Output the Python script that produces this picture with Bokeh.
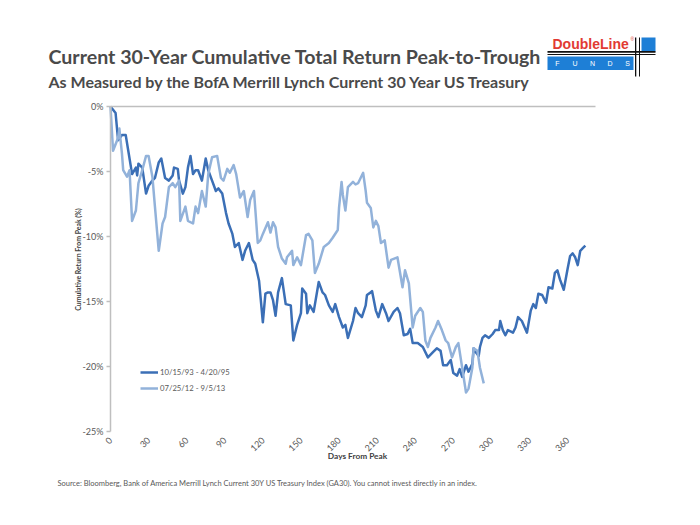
from math import pi
from bokeh.plotting import figure
from bokeh.models import (Range1d, FixedTicker, PrintfTickFormatter, Legend, LegendItem,
                          Label, LinearAxis)
from bokeh.embed import file_html
from bokeh.resources import INLINE

# ---------------- data ----------------
days_9395 = [0, 4, 6, 9, 12, 14, 17, 20, 21, 22, 25, 28, 30, 33, 35, 38, 40, 43, 46, 49,
             50, 53, 54, 57, 59, 61, 63, 65, 67, 69, 72, 75, 77, 80, 83, 85, 88, 91, 93, 96,
             98, 101, 104, 106, 109, 112, 114, 117, 120, 122, 124, 126, 128, 130, 132, 135,
             138, 142, 144, 147, 150, 151, 154, 155, 157, 160, 164, 167, 169, 172, 175, 177,
             180, 183, 185, 187, 191, 193, 195, 198, 201, 202, 205, 206, 209, 211, 214, 217,
             219, 223, 226, 228, 231, 234, 236, 238, 242, 246, 250, 254, 257, 260, 262, 265,
             268, 270, 273, 275, 277, 280, 282, 285, 286, 287, 290, 291, 293, 295, 298, 301,
             303, 306, 307, 309, 311, 313, 317, 319, 321, 324, 328, 331, 333, 335, 337, 340,
             343, 345, 348, 350, 352, 354, 357, 360, 362, 364, 366, 368, 370, 372, 374]
ret_9395 = [0.0, -0.5, -2.6, -2.2, -2.2, -3.4, -5.2, -4.7, -5.3, -4.4, -4.7, -6.7, -6.1, -5.7,
            -5.5, -4.3, -4.0, -5.5, -5.7, -5.3, -4.7, -4.8, -5.7, -6.7, -6.2, -4.7, -3.8, -5.2,
            -4.9, -4.9, -5.7, -4.0, -4.9, -5.7, -6.5, -6.3, -6.7, -8.2, -9.0, -9.8, -10.8,
            -10.5, -11.8, -11.1, -10.5, -11.8, -12.1, -13.4, -16.6, -14.4, -14.3, -14.3, -14.9,
            -16.1, -14.3, -13.2, -15.2, -15.3, -18.0, -16.8, -15.9, -14.0, -14.4, -15.9, -15.3,
            -15.8, -13.5, -14.3, -14.5, -15.3, -15.8, -15.2, -16.2, -17.0, -16.8, -17.8, -16.5,
            -15.5, -15.9, -16.2, -15.3, -14.5, -14.3, -14.2, -15.7, -16.2, -15.2, -15.9, -16.5,
            -15.8, -15.5, -15.9, -17.6, -17.5, -17.1, -18.2, -18.2, -18.5, -19.3, -18.9, -18.6,
            -18.8, -19.9, -19.9, -19.5, -20.5, -20.7, -20.2, -20.8, -19.9, -20.4, -19.8, -18.6,
            -18.8, -19.2, -18.5, -17.8, -17.6, -17.8, -17.5, -17.2, -17.2, -16.5, -17.2, -17.6,
            -17.2, -17.4, -17.0, -16.2, -16.5, -17.4, -15.7, -15.2, -15.5, -14.4, -14.5, -15.1,
            -13.9, -14.0, -12.8, -12.6, -13.3, -14.1, -12.5, -11.5, -11.3, -11.6, -12.2, -11.1,
            -10.9, -10.7]

days_1213 = [0, 2, 6, 7, 9, 10, 13, 15, 17, 20, 22, 25, 28, 30, 33, 35, 38, 41, 43, 46, 49,
             51, 54, 55, 59, 61, 65, 67, 69, 72, 75, 77, 80, 84, 87, 89, 92, 94, 97, 99, 102,
             105, 108, 110, 113, 116, 118, 120, 124, 126, 128, 130, 132, 135, 138, 139, 143,
             144, 147, 150, 154, 156, 159, 161, 164, 168, 172, 175, 179, 180, 182, 183, 185,
             187, 191, 193, 195, 197, 199, 201, 202, 205, 207, 209, 211, 213, 216, 219, 221,
             226, 230, 232, 235, 238, 240, 244, 246, 248, 250, 252, 256, 258, 261, 264, 266,
             269, 272, 274, 277, 280, 282, 285, 286, 289, 291, 294]
ret_1213 = [0.0, -3.4, -2.4, -1.7, -3.6, -4.9, -5.4, -4.9, -8.8, -8.0, -5.9, -4.9, -3.8, -3.8,
            -5.4, -7.7, -11.1, -9.0, -8.5, -6.2, -5.9, -6.2, -5.7, -8.8, -7.7, -8.8, -9.0, -7.7,
            -8.2, -6.5, -7.7, -5.2, -3.9, -3.8, -5.5, -5.7, -4.8, -5.1, -4.5, -5.2, -7.0, -6.5,
            -8.5, -7.2, -6.5, -10.5, -10.3, -9.8, -8.9, -9.7, -8.9, -9.3, -10.8, -11.7, -12.1,
            -11.6, -11.1, -12.2, -11.6, -12.2, -9.9, -9.8, -10.3, -12.8, -12.1, -10.8, -10.5,
            -10.1, -9.5, -7.8, -5.8, -6.8, -8.0, -6.2, -5.8, -6.0, -5.9, -5.5, -5.1, -6.5, -7.4,
            -7.8, -9.3, -8.8, -9.2, -10.5, -10.3, -12.4, -11.8, -11.6, -13.9, -12.6, -13.6,
            -17.0, -16.1, -15.5, -15.8, -18.0, -18.5, -17.8, -17.0, -16.5, -17.2, -18.0, -18.2,
            -19.3, -18.5, -18.2, -20.1, -22.0, -21.7, -20.1, -18.6, -18.8, -20.1, -21.3]

series_labels = ["10/15/93 - 4/20/95", "07/25/12 - 9/5/13"]
x_ticks = [0, 30, 60, 90, 120, 150, 180, 210, 240, 270, 300, 330, 360]
y_ticks = [-25, -20, -15, -10, -5, 0]

title_text = "Current 30-Year Cumulative Total Return Peak-to-Trough"
subtitle_text = "As Measured by the BofA Merrill Lynch Current 30 Year US Treasury"
x_title = "Days From Peak"
y_title = "Cumulative Return From Peak (%)"
source_text = ("Source: Bloomberg, Bank of America Merrill Lynch Current 30Y US Treasury Index "
               "(GA30). You cannot invest directly in an index.")
logo_word = "DoubleLine"
logo_letters = ["F", "U", "N", "D", "S"]

DARK = "#3b6fb6"
LIGHT = "#92b2da"
GRAY_TXT = "#595959"
AXIS_GRAY = "#bfbfbf"
FONT = "Lato"

X_MAX, Y_MIN, Y_MAX = 382, -25, 0
W, H = 700, 525
# where the chart area sits on the page (pixels)
FL, FR, FT, FB = 110, 595, 106, 431
SX = (FR - FL) / (X_MAX - 0)       # px per day
SY = (FB - FT) / (Y_MAX - Y_MIN)   # px per percent


def dx(px):
    return (px - FL) / SX


def dy(py):
    return Y_MAX - (py - FT) / SY


# The frame covers the whole page; the axes are pinned to the chart area.
p = figure(width=W, height=H,
           x_range=Range1d(dx(0), dx(W)), y_range=Range1d(dy(H), dy(0)),
           output_backend="svg", toolbar_location=None, min_border=0,
           x_axis_location=None, y_axis_location=None)
p.grid.visible = False
p.outline_line_color = None

r1 = p.line(days_9395, ret_9395, line_color=DARK, line_width=2.5, line_join="round")
r2 = p.line(days_1213, ret_1213, line_color=LIGHT, line_width=2.5, line_join="round")

# bottom category axis (labels only)
xa = LinearAxis(fixed_location=Y_MIN, bounds=(0, X_MAX), ticker=FixedTicker(ticks=x_ticks))
xa.major_label_orientation = pi / 4
xa.axis_line_color = None
xa.major_tick_line_color = None
xa.minor_tick_line_color = None
xa.major_label_text_font = FONT
xa.major_label_text_font_size = "9px"
xa.major_label_text_color = GRAY_TXT
xa.major_label_standoff = 1
p.add_layout(xa, "below")

# horizontal line at 0%
xa0 = LinearAxis(fixed_location=0, bounds=(0, X_MAX), ticker=FixedTicker(ticks=[]))
xa0.axis_line_color = AXIS_GRAY
xa0.axis_line_width = 1.5
xa0.major_tick_line_color = None
xa0.minor_tick_line_color = None
xa0.major_label_text_font_size = "0px"
p.add_layout(xa0, "above")

ya = LinearAxis(fixed_location=0, bounds=(Y_MIN, Y_MAX), ticker=FixedTicker(ticks=y_ticks),
                formatter=PrintfTickFormatter(format="%d%%"))
ya.axis_line_color = AXIS_GRAY
ya.axis_line_width = 1.5
ya.major_tick_line_color = AXIS_GRAY
ya.major_tick_line_width = 1.5
ya.major_tick_out = 4
ya.major_tick_in = 0
ya.minor_tick_line_color = None
ya.major_label_text_font = FONT
ya.major_label_text_font_size = "9px"
ya.major_label_text_color = GRAY_TXT
ya.major_label_standoff = 3
p.add_layout(ya, "left")

# axis titles
p.add_layout(Label(x=dx(357), y=dy(455), text=x_title, text_font=FONT, text_font_style="bold",
                   text_font_size="8.3px", text_color="#404040", text_align="center",
                   text_baseline="middle"))
p.add_layout(Label(x=dx(77), y=dy(259), text=y_title, text_font=FONT, text_font_style="bold",
                   text_font_size="6.9px", text_color="#404040", text_align="center",
                   text_baseline="middle", angle=pi / 2))

legend = Legend(items=[LegendItem(label=series_labels[0], renderers=[r1]),
                       LegendItem(label=series_labels[1], renderers=[r2])],
                location=(140, H - 394), orientation="vertical",
                glyph_width=18, glyph_height=12, label_height=12, spacing=4,
                label_standoff=2, padding=0, margin=0,
                border_line_color=None, background_fill_alpha=0,
                label_text_font=FONT, label_text_font_size="7.7px",
                label_text_color=GRAY_TXT)
p.add_layout(legend)

# title + subtitle
p.add_layout(Label(x=dx(48), y=dy(56), text=title_text, text_font=FONT, text_font_style="bold",
                   text_font_size="19.6px", text_color="#4a4a4a", text_baseline="middle"))
p.add_layout(Label(x=dx(48), y=dy(80.5), text=subtitle_text, text_font=FONT,
                   text_font_style="bold", text_font_size="16px", text_color="#4a4a4a",
                   text_baseline="middle"))

# logo (decoration)
logo_boxes = [  # left, right, top, bottom (page px), colour
    (547, 633, 56, 69.5, "#1e7fd6"),
    (641, 655, 37, 51, "#1e7fd6"),
    (547, 655, 50.5, 52.3, "#111111"),
    (547, 655, 53.5, 54.5, "#111111"),
    (634.5, 635.8, 37, 76, "#111111"),
    (638.5, 639.5, 37, 76, "#111111"),
]
p.quad(left=[dx(b[0]) for b in logo_boxes], right=[dx(b[1]) for b in logo_boxes],
       top=[dy(b[2]) for b in logo_boxes], bottom=[dy(b[3]) for b in logo_boxes],
       fill_color=[b[4] for b in logo_boxes], line_color=None)
p.add_layout(Label(x=dx(552), y=dy(43.5), text=logo_word, text_font="Liberation Sans",
                   text_font_style="bold", text_font_size="14px", text_color="#e23a33",
                   text_baseline="middle"))
p.add_layout(Label(x=dx(630), y=dy(38.5), text="®", text_font="Liberation Sans",
                   text_font_size="5px", text_color="#e23a33", text_baseline="middle"))
for i, letter in enumerate(logo_letters):
    p.add_layout(Label(x=dx(557 + 17.5 * i), y=dy(63), text=letter, text_font="Liberation Sans",
                       text_font_size="7px", text_color="white", text_align="center",
                       text_baseline="middle"))

# source note
p.add_layout(Label(x=dx(57), y=dy(483), text=source_text, text_font=FONT,
                   text_font_size="7.5px", text_color=GRAY_TXT, text_baseline="middle"))

open("out.html", "w").write(file_html(p, INLINE))
